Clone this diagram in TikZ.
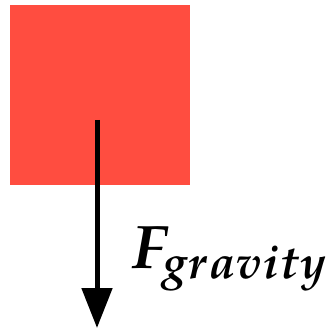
\documentclass[tikz,border=0pt]{standalone}
\usepackage{amsmath}
\usepackage{mathpazo}
\usetikzlibrary{arrows.meta}
\definecolor{boxred}{RGB}{255,77,64}

\begin{document}
\begin{tikzpicture}[x=0.02cm, y=-0.02cm]
					\useasboundingbox (0,0) rectangle (325,330);
					\fill[boxred] (10,5) rectangle (190,185);
					\coordinate (tail) at (97,120);
					\coordinate (tip) at (97,328);
					\draw[line width=0.1cm, -{Triangle[width=0.6cm, length=0.8cm]}] (tail) -- (tip);
					\node[anchor=base west, inner sep=0pt, font=\fontsize{35}{42}\selectfont\boldmath] (force) at (130,268) {$F_{gravity}$};
				\end{tikzpicture}
\end{document}
